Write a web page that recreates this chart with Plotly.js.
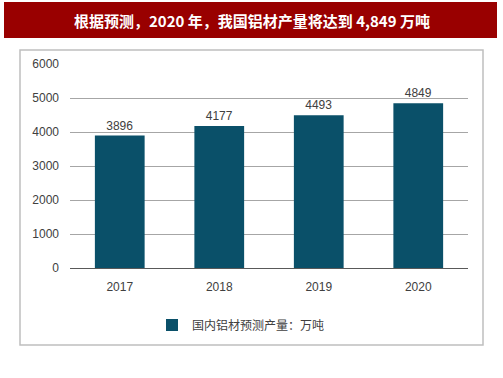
<!DOCTYPE html>
<html><head><meta charset="utf-8">
<script src="https://cdn.plot.ly/plotly-3.0.1.min.js"></script>
<style>html,body{margin:0;padding:0;background:#fff}#c{width:503px;height:378px}</style>
</head><body><div id="c"></div>
<script>
const categories = ['2017', '2018', '2019', '2020'];
const values = [3896, 4177, 4493, 4849];
const seriesName = '国内铝材预测产量：万吨';
const chartTitle = '根据预测，2020 年，我国铝材产量将达到 4,849 万吨';
const yTicks = [0, 1000, 2000, 3000, 4000, 5000, 6000];

const trace = {
  type: 'bar', x: categories, y: values, name: seriesName,
  marker: {color: '#0a5069'},
  text: values.map(String), textposition: 'outside', cliponaxis: false,
  textfont: {family: 'Liberation Sans, Arial', size: 12, color: '#404040'}
};
const W = 503, H = 378, L = 70, R = 35, T = 64, B = 110;
const pw = W - L - R, ph = H - T - B;
function px(x) { return (x - L) / pw; }
function py(y) { return (H - B - y) / ph; }
const layout = {
  width: W, height: H,
  margin: {l: L, r: R, t: T, b: B, pad: 0},
  paper_bgcolor: '#ffffff', plot_bgcolor: '#ffffff',
  bargap: 0.5,
  showlegend: true,
  font: {family: 'Liberation Sans, Arial', size: 12, color: '#404040'},
  xaxis: {type: 'category', showgrid: false, showline: false, zeroline: false, ticks: '',
          ticklabelstandoff: 10, tickfont: {size: 12, color: '#404040'}, automargin: false},
  yaxis: {range: [0, 6000], tickvals: yTicks, showgrid: true, gridcolor: '#a6a6a6', gridwidth: 1,
          zeroline: true, zerolinecolor: '#595959', zerolinewidth: 1, showline: false,
          ticks: '', ticklabelstandoff: 10, tickfont: {size: 12, color: '#404040'}, automargin: false},
  legend: {orientation: 'h', x: px(241), xanchor: 'center', y: py(325), yanchor: 'middle',
           font: {family: 'Noto Sans CJK SC', size: 12, color: '#404040'}, itemwidth: 30},
  shapes: [
    {type: 'rect', xref: 'paper', yref: 'paper', x0: px(4), x1: px(497), y0: py(2), y1: py(38),
     fillcolor: '#990000', line: {width: 0}, layer: 'below'},
    {type: 'rect', xref: 'paper', yref: 'paper', x0: px(20), x1: px(483), y0: py(50), y1: py(345),
     fillcolor: 'rgba(0,0,0,0)', line: {color: '#bfbfbf', width: 1.5}, layer: 'below'}
  ],
  annotations: [
    {xref: 'paper', yref: 'paper', x: px(252), y: py(20), xanchor: 'center', yanchor: 'middle',
     text: '<b>' + chartTitle + '</b>', showarrow: false,
     font: {family: 'Noto Sans CJK SC', size: 15, color: '#ffffff'}}
  ]
};
Plotly.newPlot('c', [trace], layout, {displayModeBar: false, staticPlot: true});
</script></body></html>
